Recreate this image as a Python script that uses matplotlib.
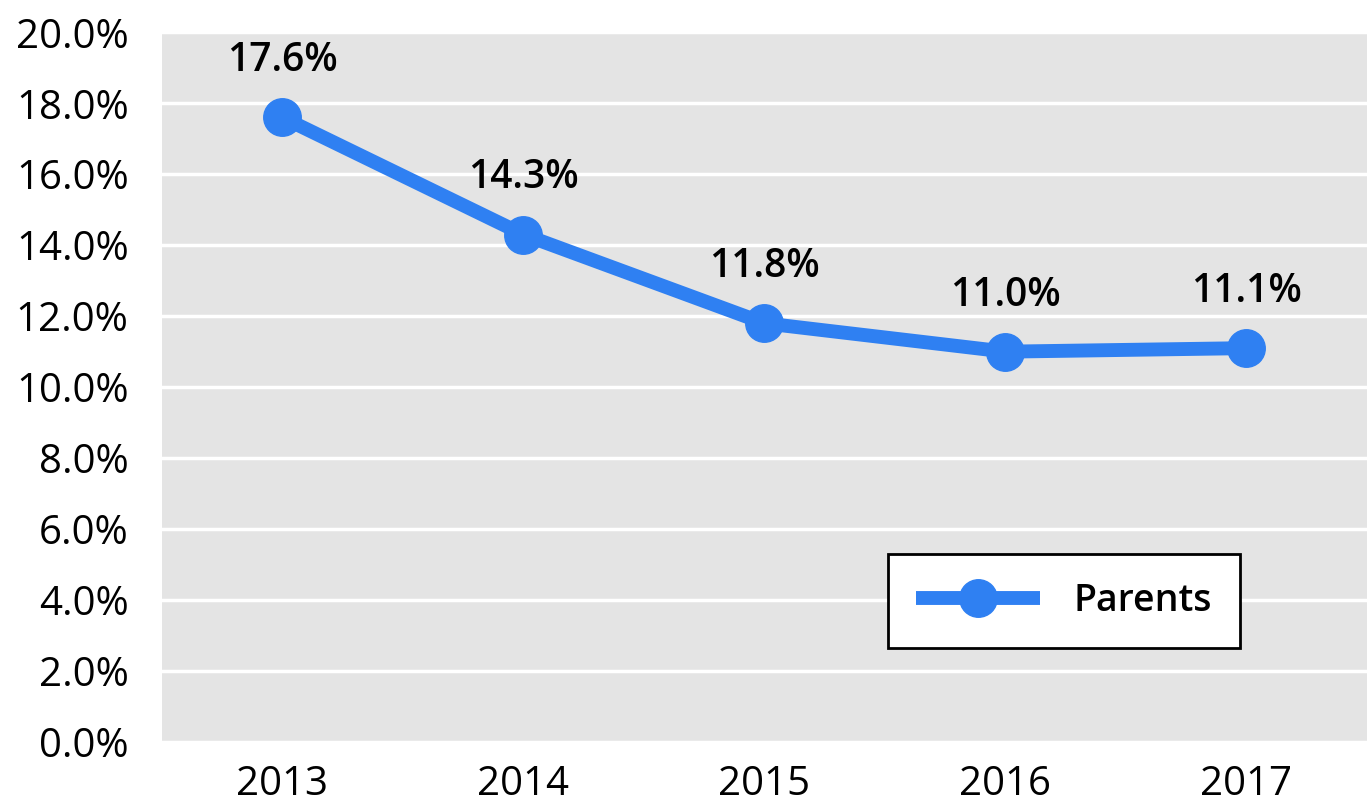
import numpy as np
import matplotlib.pyplot as plt
from matplotlib.ticker import FuncFormatter

plt.rcParams['font.family'] = ['Open Sans', 'DejaVu Sans']

years = ['2013', '2014', '2015', '2016', '2017']
parents = [17.6, 14.3, 11.8, 11.0, 11.1]
labels = ['17.6%', '14.3%', '11.8%', '11.0%', '11.1%']

blue = '#2F80F2'

fig = plt.figure(figsize=(13.67, 8.07), dpi=100)
ax = fig.add_axes([0.1185, 0.0805, 0.8815, 0.8795])
ax.set_facecolor('#e4e4e4')

x = np.arange(len(years))
ax.plot(x, parents, color=blue, linewidth=10, marker='o', markersize=27,
        label='Parents', solid_capstyle='butt')

for xi, yi, lab in zip(x, parents, labels):
    ax.annotate(lab, (xi, yi), xytext=(0, 26), textcoords='offset points',
                ha='center', va='bottom', fontsize=28, fontweight='semibold')

ax.set_xlim(-0.5, 4.5)
ax.set_ylim(0, 20)
ax.set_yticks(np.arange(0, 20.1, 2))
ax.yaxis.set_major_formatter(FuncFormatter(lambda v, p: f'{v:.1f}%'))
ax.set_xticks(x)
ax.set_xticklabels(years)
ax.tick_params(axis='both', length=0, labelsize=29)
ax.tick_params(axis='x', pad=16)
ax.tick_params(axis='y', pad=24)
ax.grid(axis='y', color='white', linewidth=2.5)
ax.set_axisbelow(True)
for s in ax.spines.values():
    s.set_visible(False)

leg = ax.legend(loc='lower right', bbox_to_anchor=(0.895, 0.132), fontsize=27,
                frameon=True, fancybox=False, handlelength=3.3,
                borderpad=0.75, handletextpad=0.9, borderaxespad=0)
leg.get_frame().set_edgecolor('black')
leg.get_frame().set_linewidth(2)
leg.get_frame().set_facecolor('white')
leg.get_frame().set_alpha(1)
for t in leg.get_texts():
    t.set_fontweight('semibold')

fig.savefig('out.png', dpi=100)
